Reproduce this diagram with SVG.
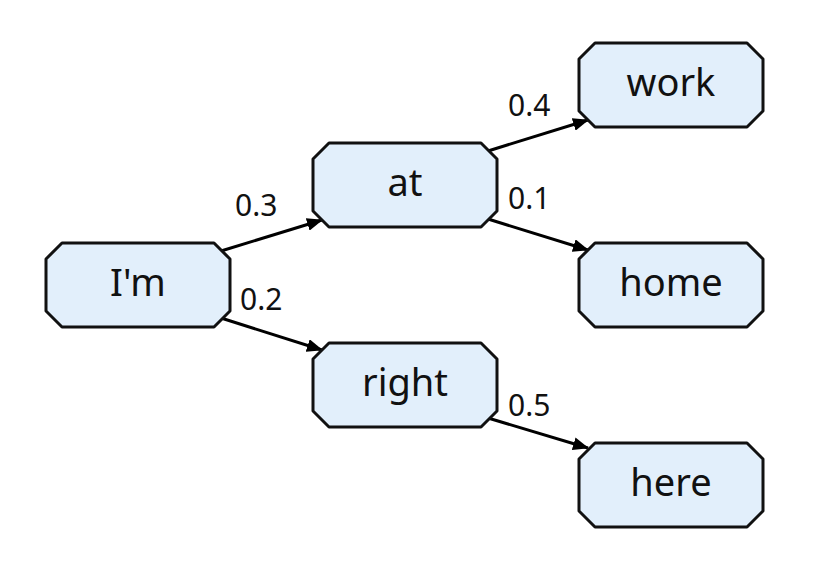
<svg xmlns="http://www.w3.org/2000/svg" width="815" height="581" viewBox="0 0 815 581">
<style>
.node{fill:#E2EFFB;stroke:#111;stroke-width:3;stroke-linejoin:round}
.nt{font-family:"Noto Sans","Open Sans",sans-serif;font-size:38px;fill:#111;text-anchor:middle}
.lt{font-family:"Noto Sans","Open Sans",sans-serif;font-size:30px;fill:#111}
.edge{stroke:#000;stroke-width:3;fill:none;marker-end:url(#arr)}
</style>
<defs>
<polygon id="oct" points="16,0 168,0 184,16 184,68 168,84 16,84 0,68 0,16"/>
<marker id="arr" viewBox="0 0 16 13" refX="15" refY="6.5" markerWidth="16" markerHeight="13" markerUnits="userSpaceOnUse" orient="auto">
<path d="M0,0 L16,6.5 L0,13 z" fill="#000"/>
</marker>
</defs>
<rect width="815" height="581" fill="#fff"/>
<g id="connectors">
<line class="edge" x1="221" y1="251" x2="322" y2="220"/>
<line class="edge" x1="221" y1="318" x2="322" y2="350"/>
<line class="edge" x1="488" y1="151" x2="588" y2="120"/>
<line class="edge" x1="488" y1="219" x2="588" y2="250"/>
<line class="edge" x1="488" y1="418" x2="588" y2="448"/>
<text class="lt" x="235" y="216">0.3</text>
<text class="lt" x="240" y="310">0.2</text>
<text class="lt" x="508" y="116">0.4</text>
<text class="lt" x="508" y="209">0.1</text>
<text class="lt" x="508" y="416">0.5</text>
</g>
<g id="node-im"><use href="#oct" class="node" x="46" y="243"/><text class="nt" x="138" y="296">I'm</text></g>
<g id="node-at"><use href="#oct" class="node" x="313" y="143"/><text class="nt" x="405" y="196">at</text></g>
<g id="node-work"><use href="#oct" class="node" x="579" y="43"/><text class="nt" x="671" y="96">work</text></g>
<g id="node-home"><use href="#oct" class="node" x="579" y="243"/><text class="nt" x="671" y="296">home</text></g>
<g id="node-right"><use href="#oct" class="node" x="313" y="343"/><text class="nt" x="405" y="396">right</text></g>
<g id="node-here"><use href="#oct" class="node" x="579" y="443"/><text class="nt" x="671" y="496">here</text></g>
</svg>
